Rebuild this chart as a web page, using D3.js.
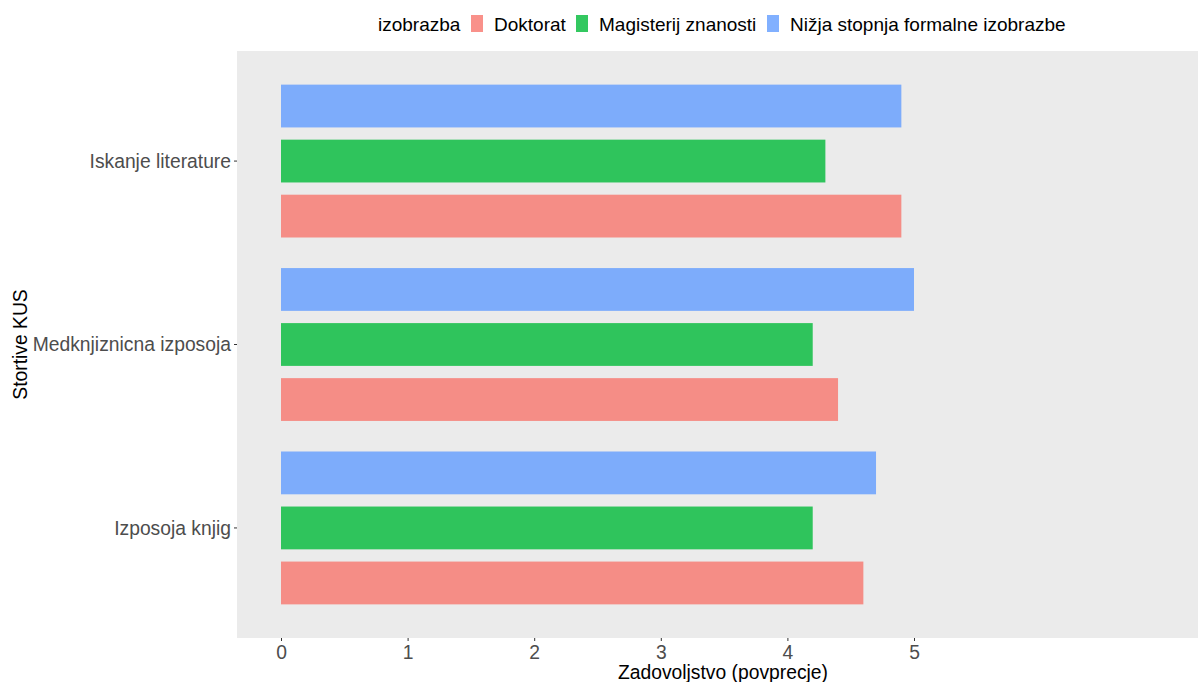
<!DOCTYPE html>
<html>
<head>
<meta charset="utf-8">
<script src="https://d3js.org/d3.v7.min.js"></script>
<style>
  body { margin: 0; background: #fff; }
  text { font-family: "Liberation Sans", Arial, sans-serif; }
  .axis text { fill: #4D4D4D; font-size: 19.3px; }
  .axis line { stroke: #333; }
  .axis path { display: none; }
</style>
</head>
<body>
<div id="chart"></div>
<script>
// categories top-to-bottom as in the picture
var storitve = ["Iskanje literature", "Medknjiznicna izposoja", "Izposoja knjig"];
var izobrazba = ["Doktorat", "Magisterij znanosti", "Nižja stopnja formalne izobrazbe"];
var barvy = ["#F8766D", "#00BA38", "#619CFF"];
// mean satisfaction, one array per education level, same order as storitve
var doktorat = [4.9, 4.4, 4.6];
var magisterij = [4.3, 4.2, 4.2];
var nizja = [4.9, 5.0, 4.7];
var xticks = [0, 1, 2, 3, 4, 5];

var series = [doktorat, magisterij, nizja];

var W = 1198, H = 682;
var margin = {top: 51, right: 0, bottom: 44, left: 237};
var width = W - margin.left - margin.right,
    height = H - margin.top - margin.bottom;

var svg = d3.select("#chart").append("svg")
    .attr("width", W)
    .attr("height", H);

var g = svg.append("g")
    .attr("transform", "translate(" + margin.left + "," + margin.top + ")");

g.append("rect")
    .attr("width", width)
    .attr("height", height)
    .attr("fill", "#EBEBEB");

// x: 0 sits 44px in, 1 unit ~ 126.6px
var x = d3.scaleLinear()
    .domain([-44 / 126.6, (width - 44) / 126.6])
    .range([0, width]);

// ggplot discrete expansion of 0.6 on each side
var step = height / (storitve.length - 1 + 1.2);
var y = function(cat) { return 0.6 * step + storitve.indexOf(cat) * step; };

// dodge width 0.9, bar width 0.7
var dodge = d3.scaleBand()
    .domain(izobrazba.slice().reverse())
    .range([-0.45 * step, 0.45 * step]);
var barH = dodge.bandwidth() * 0.7 / 0.9;

var rows = [];
storitve.forEach(function(s, i) {
  izobrazba.forEach(function(iz, j) {
    rows.push({storitev: s, izobrazba: iz, value: series[j][i], color: barvy[j]});
  });
});

g.selectAll(".bar")
    .data(rows)
  .enter().append("rect")
    .attr("class", "bar")
    .attr("x", x(0))
    .attr("width", function(d) { return x(d.value) - x(0); })
    .attr("y", function(d) { return y(d.storitev) + dodge(d.izobrazba) + (dodge.bandwidth() - barH) / 2; })
    .attr("height", barH)
    .attr("fill", function(d) { return d.color; })
    .attr("fill-opacity", 0.8);

// x axis
var xAxis = g.append("g")
    .attr("class", "axis axis--x")
    .attr("transform", "translate(0," + height + ")")
    .call(d3.axisBottom(x).tickValues(xticks).tickFormat(d3.format("d"))
          .tickSize(3).tickPadding(3));
xAxis.selectAll("text").attr("dy", "0.76em");

// y axis
var yAxis = g.append("g").attr("class", "axis axis--y");
storitve.forEach(function(s) {
  yAxis.append("line")
      .attr("x1", -3).attr("x2", 0)
      .attr("y1", y(s)).attr("y2", y(s));
  yAxis.append("text")
      .attr("x", -6)
      .attr("y", y(s))
      .attr("dy", "0.35em")
      .attr("text-anchor", "end")
      .text(s);
});

// axis titles
svg.append("text")
    .attr("x", 723)
    .attr("y", 679)
    .attr("text-anchor", "middle")
    .style("font-size", "19.3px")
    .attr("fill", "#000")
    .text("Zadovoljstvo (povprecje)");

svg.append("text")
    .attr("transform", "translate(27," + (margin.top + height / 2) + ") rotate(-90)")
    .attr("text-anchor", "middle")
    .style("font-size", "19.3px")
    .attr("fill", "#000")
    .text("Stortive KUS");

// legend on top
var legend = svg.append("g").attr("transform", "translate(378,31)");
legend.append("text")
    .style("font-size", "19px")
    .text("izobrazba");
var lx = [93, 198, 389];
izobrazba.forEach(function(iz, j) {
  legend.append("rect")
      .attr("x", lx[j])
      .attr("y", -16)
      .attr("width", 12)
      .attr("height", 17)
      .attr("fill", barvy[j])
      .attr("fill-opacity", 0.8);
  legend.append("text")
      .attr("x", lx[j] + 23)
      .style("font-size", "19px")
      .text(iz);
});
</script>
</body>
</html>
